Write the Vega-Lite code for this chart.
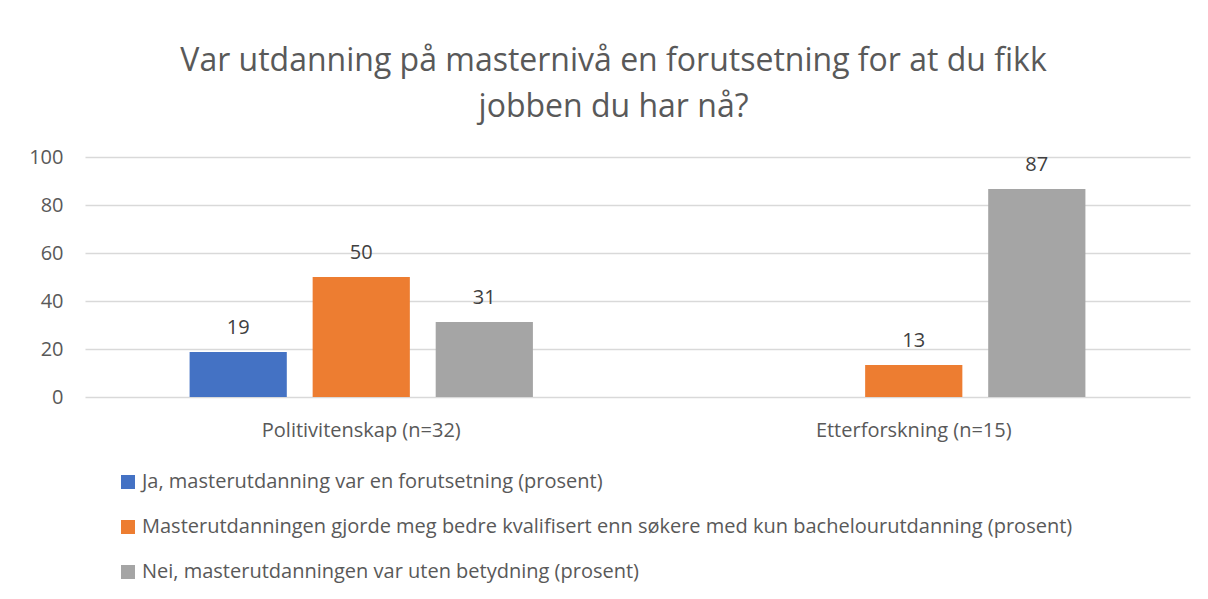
{
  "$schema": "https://vega.github.io/schema/vega-lite/v6.json",
  "autosize": {"type": "none"},
  "width": 1105,
  "height": 240,
  "padding": {"left": 85, "top": 157, "right": 18, "bottom": 202},
  "background": "white",
  "config": {
    "font": "Open Sans",
    "view": {"stroke": null}
  },
  "title": {
    "text": ["Var utdanning på masternivå en forutsetning for at du fikk", "jobben du har nå?"],
    "fontSize": 32,
    "fontWeight": "normal",
    "color": "#595959",
    "font": "Open Sans",
    "anchor": "middle",
    "dx": -24,
    "lineHeight": 46,
    "offset": 23
  },
  "data": {
    "values": [
      {"gruppe": "Politivitenskap (n=32)", "svar": "Ja, masterutdanning var en forutsetning (prosent)", "verdi": 18.75},
      {"gruppe": "Politivitenskap (n=32)", "svar": "Masterutdanningen gjorde meg bedre kvalifisert enn søkere med kun bachelourutdanning (prosent)", "verdi": 50},
      {"gruppe": "Politivitenskap (n=32)", "svar": "Nei, masterutdanningen var uten betydning (prosent)", "verdi": 31.25},
      {"gruppe": "Etterforskning (n=15)", "svar": "Masterutdanningen gjorde meg bedre kvalifisert enn søkere med kun bachelourutdanning (prosent)", "verdi": 13.33},
      {"gruppe": "Etterforskning (n=15)", "svar": "Nei, masterutdanningen var uten betydning (prosent)", "verdi": 86.67}
    ]
  },
  "encoding": {
    "x": {
      "field": "gruppe",
      "type": "nominal",
      "sort": ["Politivitenskap (n=32)", "Etterforskning (n=15)"],
      "scale": {"paddingInner": 0, "paddingOuter": 0},
      "axis": {
        "title": null,
        "labelAngle": 0,
        "labelFontSize": 20,
        "labelColor": "#595959",
        "labelPadding": 23,
        "labelLimit": 500,
        "ticks": false,
        "domain": false,
        "grid": false
      }
    },
    "xOffset": {
      "field": "svar",
      "type": "nominal",
      "sort": [
        "Ja, masterutdanning var en forutsetning (prosent)",
        "Masterutdanningen gjorde meg bedre kvalifisert enn søkere med kun bachelourutdanning (prosent)",
        "Nei, masterutdanningen var uten betydning (prosent)"
      ],
      "scale": {
        "domain": [
          "Ja, masterutdanning var en forutsetning (prosent)",
          "Masterutdanningen gjorde meg bedre kvalifisert enn søkere med kun bachelourutdanning (prosent)",
          "Nei, masterutdanningen var uten betydning (prosent)"
        ],
        "paddingInner": 0.21,
        "paddingOuter": 0.85
      }
    },
    "y": {
      "field": "verdi",
      "type": "quantitative",
      "scale": {"domain": [0, 100], "nice": false},
      "axis": {
        "title": null,
        "values": [0, 20, 40, 60, 80, 100],
        "labelFontSize": 20,
        "labelColor": "#595959",
        "labelPadding": 22,
        "ticks": false,
        "domain": false,
        "gridColor": "#d9d9d9",
        "gridWidth": 1.5
      }
    }
  },
  "layer": [
    {
      "mark": {"type": "bar"},
      "encoding": {
        "color": {
          "field": "svar",
          "type": "nominal",
          "scale": {
            "domain": [
              "Ja, masterutdanning var en forutsetning (prosent)",
              "Masterutdanningen gjorde meg bedre kvalifisert enn søkere med kun bachelourutdanning (prosent)",
              "Nei, masterutdanningen var uten betydning (prosent)"
            ],
            "range": ["#4472C4", "#ED7D31", "#A5A5A5"]
          },
          "legend": {
            "title": null,
            "orient": "none",
            "legendX": 33,
            "legendY": 315,
            "direction": "vertical",
            "symbolType": "square",
            "symbolSize": 196,
            "symbolStrokeWidth": 0,
            "labelFontSize": 20,
            "labelColor": "#595959",
            "labelLimit": 1100,
            "labelOffset": 4,
            "rowPadding": 25
          }
        }
      }
    },
    {
      "mark": {"type": "text", "dy": -24, "fontSize": 20, "color": "#404040"},
      "encoding": {
        "text": {"field": "verdi", "type": "quantitative", "format": ".0f"}
      }
    }
  ]
}
